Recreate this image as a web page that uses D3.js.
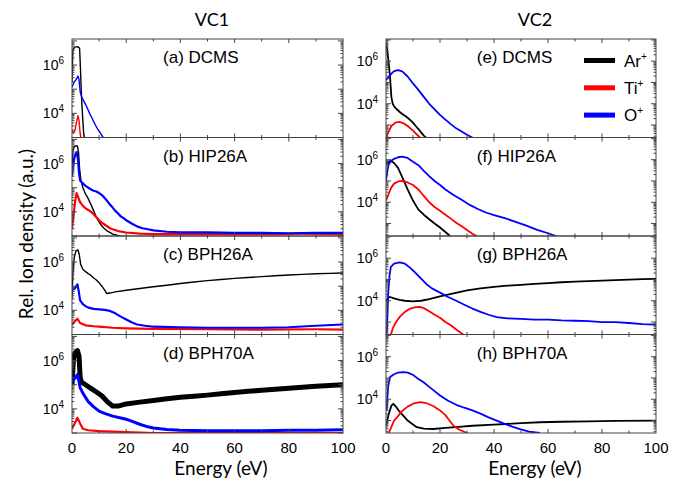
<!DOCTYPE html>
<html>
<head>
<meta charset="utf-8">
<script src="https://cdn.jsdelivr.net/npm/d3@7"></script>
<style>
  body { margin: 0; background: #fff; }
  svg text { fill: #000; }
</style>
</head>
<body>
<svg id="chart" width="686" height="483"></svg>
<script>
// ion energy distributions: [energy (eV), rel. density]
const panelLabels = ["(a) DCMS", "(b) HIP26A", "(c) BPH26A", "(d) BPH70A",
                     "(e) DCMS", "(f) HIP26A", "(g) BPH26A", "(h) BPH70A"];
const columnTitles = ["VC1", "VC2"];
const ionNames = ["Ar", "Ti", "O"];
const xTicks = [0, 20, 40, 60, 80, 100];
const yLabelExps = [4, 6];

// VC1
const arA = [[0,2e5],[0.3,4e6],[1,5.5e6],[2,5.8e6],[2.8,5e6],[3,1.5e6],[3.3,2e5],[3.6,3e4],[4,5e3],[4.3,1.5e3],[4.6,1e3]];
const tiA = [[0,2e3],[0.5,1.5e3],[1,1.8e3],[1.6,4e3],[2.2,8e3],[2.6,5e3],[3,1.5e3],[3.3,1e3]];
const oA  = [[0,1.2e5],[0.8,2e5],[1.5,2.5e5],[2.2,3.5e5],[2.6,2.5e5],[3,8e4],[3.5,5e4],[4.5,3e4],[5.5,1.8e4],[6.5,1e4],[7.5,6e3],[8.5,3.5e3],[9.5,2.2e3],[10.5,1.5e3],[11.5,1e3]];

const arB = [[0,5e5],[0.4,4e6],[1,5.3e6],[2,5.3e6],[2.4,3e6],[2.8,6e5],[3.3,2e5],[4,1e5],[5,5.5e4],[6,3.5e4],[7,2e4],[8,1.1e4],[9,6e3],[10,3.8e3],[11,2.6e3],[12,2e3],[13,1.6e3],[14,1.4e3],[15,1.2e3],[17,1.05e3],[18,1e3]];
const tiB = [[0,2e3],[0.6,8e3],[1.2,3e4],[1.7,6e4],[2.3,4e4],[3,2.5e4],[4,1.8e4],[5,1.4e4],[6,1.2e4],[7,1e4],[8,8e3],[9,6e3],[10,4.5e3],[11,3.6e3],[12,3e3],[13,2.5e3],[14,2.1e3],[15,1.9e3],[17,1.6e3],[20,1.4e3],[25,1.25e3],[30,1.2e3],[50,1.2e3],[70,1.2e3],[85,1.25e3],[100,1.2e3]];
const oB  = [[0,3e5],[0.5,1e6],[1,2e6],[1.7,3e6],[2.2,1.5e6],[2.6,4e5],[3,2e5],[4,1.5e5],[5,1.2e5],[6,1e5],[7,8.5e4],[8,7.5e4],[9,7e4],[10,6e4],[11,5e4],[12,3.8e4],[13,2.8e4],[14,2e4],[15,1.5e4],[16,1.1e4],[17,8.5e3],[18,6.5e3],[19,5.5e3],[20,4.5e3],[22,3.3e3],[24,2.5e3],[26,2.1e3],[28,1.9e3],[30,1.7e3],[35,1.5e3],[40,1.4e3],[50,1.4e3],[60,1.35e3],[70,1.35e3],[80,1.3e3],[90,1.35e3],[100,1.35e3]];

const arC = [[0,3e4],[0.3,3e5],[0.8,1.5e6],[1.5,3e6],[2.2,3.2e6],[2.7,2e6],[3.2,8e5],[4,5e5],[5,4e5],[6,3.3e5],[7,2.8e5],[8,2.2e5],[9,1.8e5],[10,1.4e5],[11,1e5],[12,7e4],[12.8,5e4],[14,5.2e4],[16,5.8e4],[20,6.8e4],[25,8e4],[30,9.5e4],[35,1.1e5],[40,1.3e5],[45,1.5e5],[50,1.7e5],[55,1.9e5],[60,2.1e5],[65,2.3e5],[70,2.5e5],[75,2.7e5],[80,2.9e5],[85,3.1e5],[90,3.3e5],[95,3.4e5],[100,3.5e5]];
const tiC = [[0,2.5e3],[1,3.5e3],[2,4.5e3],[3,3e3],[5,2.4e3],[8,2.2e3],[10,2.1e3],[15,1.9e3],[20,1.8e3],[30,1.7e3],[50,1.65e3],[70,1.6e3],[90,1.65e3],[100,1.6e3]];
const oC  = [[0,7e4],[1,8e4],[2,1.2e5],[2.5,6e4],[3,2.6e4],[4,1.8e4],[5,1.5e4],[6,1.3e4],[8,1.15e4],[10,1.1e4],[12,1.05e4],[14,9.5e3],[16,7.5e3],[18,5.5e3],[20,4.2e3],[22,3.2e3],[24,2.6e3],[27,2.3e3],[30,2.1e3],[40,2e3],[50,1.9e3],[60,1.9e3],[70,1.9e3],[80,2e3],[90,2.3e3],[100,2.6e3]];

const arD = [[0,1e5],[0.5,1e6],[1,2e6],[2,2.6e6],[2.6,1.5e6],[3,2e5],[3.5,1.3e5],[5,1e5],[7,7e4],[9,5e4],[11,3.5e4],[13,2e4],[15,1.3e4],[17,1.3e4],[20,1.6e4],[25,1.9e4],[30,2.2e4],[35,2.6e4],[40,3e4],[45,3.3e4],[50,3.7e4],[55,4.2e4],[60,4.8e4],[65,5.3e4],[70,5.9e4],[75,6.5e4],[80,7.2e4],[85,7.8e4],[90,8.6e4],[95,9.3e4],[100,1e5]];
const tiD = [[0,1.5e3],[1,2.5e3],[2,4.3e3],[3,2.5e3],[4,1.5e3],[6,1.3e3],[10,1.2e3],[15,1.15e3],[20,1.1e3],[25,1.05e3],[30,1e3],[100,1e3]];
const oD  = [[0,1.4e5],[1,1.8e5],[2,2.6e5],[2.5,1.5e5],[3,7.6e4],[4,4.5e4],[5,3e4],[6,2e4],[8,1.2e4],[10,8e3],[12,6.5e3],[15,5e3],[18,4.2e3],[20,3.7e3],[22,3.1e3],[25,2.3e3],[28,1.8e3],[30,1.6e3],[35,1.4e3],[40,1.3e3],[50,1.25e3],[60,1.25e3],[70,1.25e3],[80,1.3e3],[90,1.3e3],[100,1.35e3]];

// VC2
const arE = [[0,7e6],[0.5,3e6],[1,8e5],[1.5,1.8e5],[2,2e4],[2.5,1e4],[3,7.5e3],[4,5.5e3],[5,4.2e3],[6,3.3e3],[7,2.7e3],[8,2.2e3],[9,1.7e3],[10,1.3e3],[11,9e2],[12,6.5e2],[13,4.5e2],[14,3.2e2],[15,2.5e2]];
const tiE = [[0,2.6e2],[1,5e2],[2,9e2],[3.5,1.3e3],[5,1.4e3],[6.5,1.2e3],[8,9e2],[10,5.5e2],[11.5,3.5e2],[12.6,2.6e2]];
const oE  = [[0,1.3e5],[1,1.8e5],[2,2.6e5],[3,3.4e5],[4.5,3.8e5],[6,3.3e5],[8,1.9e5],[10,9e4],[12,4.5e4],[14,2.1e4],[16,1e4],[18,5.5e3],[20,3e3],[22,1.8e3],[24,1.1e3],[26,7e2],[28,5e2],[30,3.5e2],[32,2.6e2]];

const arF = [[0,6e5],[1,8e5],[1.8,9e5],[3,7e5],[4.5,4e5],[6,1.5e5],[8,4e4],[10,1.2e4],[12,4.5e3],[14,2.6e3],[16,1.6e3],[18,1e3],[20,6.5e2],[22,4e2],[23.7,2.6e2]];
const tiF = [[0,1.2e4],[1,2.5e4],[2,5e4],[3,7.5e4],[4.5,9.5e4],[6,1e5],[8,8.5e4],[10,6.5e4],[12,4e4],[13,2.8e4],[14,2e4],[15,1.4e4],[16,1e4],[18,6e3],[20,4e3],[22,2.6e3],[24,1.7e3],[26,1.1e3],[28,7.5e2],[30,5e2],[32,3.3e2],[33.6,2.6e2]];
const oF  = [[0,1e5],[0.5,3e5],[1,6e5],[2,9e5],[3,1.1e6],[4.5,1.3e6],[6,1.4e6],[8,1.2e6],[10,8e5],[12,5.5e5],[14,3e5],[16,1.7e5],[18,1e5],[20,6.5e4],[22,4e4],[25,2.2e4],[28,1.3e4],[31,7.5e3],[34,4.8e3],[37,3.3e3],[40,2.5e3],[44,1.8e3],[48,1.2e3],[52,8e2],[56,5e2],[60,3.5e2],[63,2.6e2]];

const arG = [[0,1e4],[1,1.4e4],[1.5,1.5e4],[3,1.3e4],[5,1.1e4],[7,1e4],[10,9.3e3],[13,1e4],[16,1.2e4],[20,1.6e4],[25,2.2e4],[30,3.1e4],[35,3.8e4],[40,4.5e4],[45,5.1e4],[50,5.6e4],[55,6.2e4],[60,6.8e4],[65,7.4e4],[70,7.9e4],[75,8.4e4],[80,8.8e4],[85,9.3e4],[90,9.8e4],[95,1.03e5],[100,1.07e5]];
const tiG = [[1.8,2.6e2],[2.5,5e2],[3.5,9e2],[5,1.7e3],[7,3e3],[9,4.3e3],[11,5e3],[12.5,5.2e3],[14,4.5e3],[16,3.2e3],[18,2.2e3],[20,1.6e3],[22,1e3],[24,7e2],[26,4.5e2],[28.6,2.6e2]];
const oG  = [[0.3,3e2],[0.8,2e4],[1.3,1.5e5],[1.8,3.9e5],[3,5.5e5],[5,6.3e5],[7,5.5e5],[9,3.5e5],[11,2e5],[13,1.1e5],[15,6e4],[17,3.8e4],[20,2.4e4],[23,1.5e4],[26,1e4],[29,6.5e3],[32,4.3e3],[35,3e3],[38,2.2e3],[41,1.7e3],[45,1.5e3],[50,1.4e3],[55,1.3e3],[60,1.3e3],[65,1.2e3],[70,1.15e3],[75,1.1e3],[80,1e3],[85,1e3],[90,9e2],[95,8e2],[100,7.5e2]];

const arH = [[0,5.7e2],[1,2e3],[2,5e3],[2.7,6.1e3],[4,4e3],[5,2.6e3],[6.4,1.7e3],[8,1e3],[10,6.5e2],[11.4,4.9e2],[14,4.2e2],[17.5,4e2],[22,4.5e2],[27,5e2],[32,5.7e2],[40,6.5e2],[50,7.5e2],[57,8.3e2],[65,8.8e2],[75,9.2e2],[85,9.6e2],[100,1e3]];
const tiH = [[1,2.6e2],[2,5e2],[3,1e3],[4.6,1.7e3],[6,2.8e3],[8,4.5e3],[10,6.2e3],[12.6,7.4e3],[15,6.5e3],[17.5,4.8e3],[20,3e3],[22,1.8e3],[23.5,1e3],[25,5.7e2],[27,3.8e2],[30,2.6e2]];
const oH  = [[0.2,3e3],[0.8,4e4],[1.5,1.1e5],[3,1.5e5],[4.5,1.8e5],[6.4,1.9e5],[8,1.8e5],[10,1.4e5],[12,9e4],[13.8,6.5e4],[16,3.8e4],[18,2.4e4],[20,1.5e4],[23,8.5e3],[26,5.5e3],[29,4e3],[32,3e3],[35,2.1e3],[38,1.4e3],[41,1e3],[44,7e2],[47,5e2],[49.6,4e2],[53,3e2],[57,2.6e2]];

const panelData = [
  [arA, tiA, oA], [arB, tiB, oB], [arC, tiC, oC], [arD, tiD, oD],
  [arE, tiE, oE], [arF, tiF, oF], [arG, tiG, oG], [arH, tiH, oH]
];

const colors = ["#000000", "#ff0000", "#0000ff"];
const svg = d3.select("#chart");

const top0 = 39, bottom0 = 433, nRows = 4;
const rowH = (bottom0 - top0) / nRows;
const colX = [[72, 343], [386, 656]];
const yDomains = [[1e3, 1.2e7], [2.6e2, 1.1e7]];
const tickFont = "'Liberation Sans', Arial, sans-serif";
const titleFont = "Lato, 'Open Sans', sans-serif";

const defs = svg.append("defs");

panelData.forEach((series, i) => {
  const col = Math.floor(i / nRows), row = i % nRows;
  const y0 = top0 + row * rowH, y1 = y0 + rowH;
  const x = d3.scaleLinear().domain([0, 100]).range(colX[col]);
  const y = d3.scaleLog().domain(yDomains[col]).range([y1, y0]);

  defs.append("clipPath").attr("id", "clip" + i)
    .append("rect")
      .attr("x", colX[col][0]).attr("y", y0)
      .attr("width", colX[col][1] - colX[col][0]).attr("height", rowH);

  const g = svg.append("g");
  const plot = g.append("g").attr("clip-path", `url(#clip${i})`);

  const line = d3.line()
    .x(d => x(d[0]))
    .y(d => y(Math.max(d[1], yDomains[col][0] * 0.8)));

  series.forEach((s, k) => {
    let w = col === 0 ? 1.4 : 1.8;
    if (col === 0 && k > 0 && row > 0) w = 2.2;
    if (i === 3 && k === 0) w = 5;
    if (i === 3 && k === 2) w = 3;
    plot.append("path")
      .datum(s)
      .attr("fill", "none")
      .attr("stroke", colors[k])
      .attr("stroke-width", w)
      .attr("stroke-linejoin", "round")
      .attr("d", line);
  });

  // y ticks (log, both sides, inward)
  const yt = y.ticks();
  [colX[col][0], colX[col][1]].forEach((xx, side) => {
    const dir = side === 0 ? 1 : -1;
    g.selectAll(null).data(yt).join("line")
      .attr("x1", xx).attr("x2", d => xx + dir * (Math.log10(d) % 1 === 0 ? 5 : 2.5))
      .attr("y1", d => y(d)).attr("y2", d => y(d))
      .attr("stroke", "#444").attr("stroke-width", 1);
  });

  // x ticks every 10 on top and bottom, inward
  const xt = d3.range(10, 100, 10);
  [y0, y1].forEach((yy, side) => {
    const dir = side === 0 ? 1 : -1;
    g.selectAll(null).data(xt).join("line")
      .attr("x1", d => x(d)).attr("x2", d => x(d))
      .attr("y1", yy).attr("y2", d => yy + dir * (d % 20 === 0 ? 4 : 2.5))
      .attr("stroke", "#444").attr("stroke-width", 1);
  });

  g.append("rect")
    .attr("x", colX[col][0]).attr("y", y0)
    .attr("width", colX[col][1] - colX[col][0]).attr("height", rowH)
    .attr("fill", "none").attr("stroke", "#444").attr("stroke-width", 1);

  // y labels 10^4, 10^6
  yLabelExps.forEach(e => {
    const t = g.append("text")
      .attr("x", colX[col][0] - 8).attr("y", y(Math.pow(10, e)) + 5)
      .attr("text-anchor", "end")
      .attr("font-family", tickFont).attr("font-size", 14);
    t.append("tspan").text("10");
    t.append("tspan").attr("dy", -6).attr("font-size", 10).text(e);
  });

  g.append("text")
    .attr("x", x(33.6)).attr("y", y0 + 24)
    .attr("font-family", tickFont).attr("font-size", 17)
    .text(panelLabels[i]);

  if (row === nRows - 1) {
    g.selectAll(null).data(xTicks).join("text")
      .attr("x", d => x(d)).attr("y", y1 + 20)
      .attr("text-anchor", "middle")
      .attr("font-family", tickFont).attr("font-size", 15)
      .text(d => d);
    svg.append("text")
      .attr("x", col === 0 ? 221 : 535).attr("y", 475)
      .attr("text-anchor", "middle")
      .attr("font-family", titleFont).attr("font-size", 19)
      .text("Energy (eV)");
  }
});

// column titles
columnTitles.forEach((t, c) => {
  svg.append("text")
    .attr("x", c === 0 ? 212 : 535).attr("y", 26)
    .attr("text-anchor", "middle")
    .attr("font-family", titleFont).attr("font-size", 18)
    .text(t);
});

svg.append("text")
  .attr("transform", "translate(33,234) rotate(-90)")
  .attr("text-anchor", "middle")
  .attr("font-family", titleFont).attr("font-size", 19)
  .text("Rel. Ion density (a.u.)");

// legend in panel (e)
const legend = svg.append("g");
ionNames.forEach((n, k) => {
  const ly = 60.5 + k * 27.3;
  legend.append("line")
    .attr("x1", 584).attr("x2", 615).attr("y1", ly).attr("y2", ly)
    .attr("stroke", colors[k]).attr("stroke-width", 5);
  const t = legend.append("text")
    .attr("x", 624).attr("y", ly + 6)
    .attr("font-family", tickFont).attr("font-size", 17);
  t.append("tspan").text(n);
  t.append("tspan").attr("dy", -7).attr("font-size", 10).text("+");
});
</script>
</body>
</html>
